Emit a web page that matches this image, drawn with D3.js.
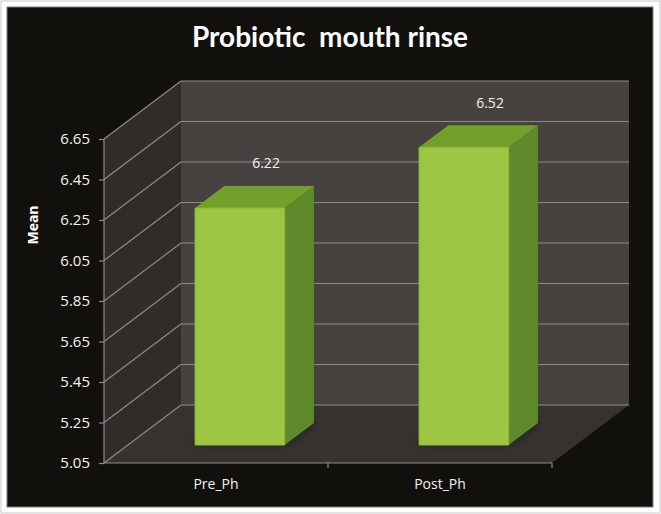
<!DOCTYPE html>
<html>
<head>
<meta charset="utf-8">
<script src="https://cdn.jsdelivr.net/npm/d3@7"></script>
<style>
  html, body { margin: 0; padding: 0; background: #fff; }
  svg { display: block; }
</style>
</head>
<body>
<div id="chart"></div>
<script>
const categories = ["Pre_Ph", "Post_Ph"];
const means = [6.22, 6.52];
const yTicks = [5.05, 5.25, 5.45, 5.65, 5.85, 6.05, 6.25, 6.45, 6.65];

const width = 661, height = 514;
const depthX = 77, depthY = 58;      // back wall offset
const zFront = 0.31, zBack = 0.69;   // bar depth inside the box

const svg = d3.select("#chart")
  .append("svg")
  .attr("width", width)
  .attr("height", height);

// frame
svg.append("rect")
  .attr("x", 0).attr("y", 0)
  .attr("width", width).attr("height", height)
  .attr("fill", "#fff");
svg.append("rect")
  .attr("x", 1).attr("y", 1)
  .attr("width", width - 2).attr("height", height - 2)
  .attr("fill", "none").attr("stroke", "#c8c8c8");
svg.append("rect")
  .attr("x", 7).attr("y", 7)
  .attr("width", 646).attr("height", 500)
  .attr("fill", "#12100d")
  .attr("stroke", "#7a7a7a").attr("stroke-width", 1);

const y = d3.scaleLinear()
  .domain([5.05, 6.65])
  .range([463, 139]);

const x = d3.scaleBand()
  .domain(categories)
  .range([104, 552])
  .paddingInner(0.6)
  .paddingOuter(0.3);

const xAxisScale = d3.scaleBand()
  .domain(categories)
  .range([104, 552]);

// project a front-plane point to depth z (0..1)
const P = (px, py, z) => [px + z * depthX, py - z * depthY];
const poly = pts => "M" + pts.map(p => p.join(",")).join("L") + "Z";

const x0 = xAxisScale.range()[0], x1 = xAxisScale.range()[1];
const yTop = y(6.65), yBot = y(5.05);

// side wall
svg.append("path")
  .attr("d", poly([P(x0, yTop, 0), P(x0, yTop, 1), P(x0, yBot, 1), P(x0, yBot, 0)]))
  .attr("fill", "#2f2c2a");
// back wall
svg.append("path")
  .attr("d", poly([P(x0, yTop, 1), P(x1, yTop, 1), P(x1, yBot, 1), P(x0, yBot, 1)]))
  .attr("fill", "#46423f");
// floor
svg.append("path")
  .attr("d", poly([P(x0, yBot, 0), P(x1, yBot, 0), P(x1, yBot, 1), P(x0, yBot, 1)]))
  .attr("fill", "#353230");

// gridlines: side wall diagonals + back wall lines
const grid = svg.append("g")
  .attr("stroke", "#8d8b88")
  .attr("stroke-width", 1.2)
  .attr("fill", "none");
grid.selectAll(".side")
  .data(yTicks)
  .enter()
  .append("path")
  .attr("d", d => "M" + P(x0, y(d), 0).join(",") + "L" + P(x0, y(d), 1).join(","));
grid.selectAll(".back")
  .data(yTicks)
  .enter()
  .append("path")
  .attr("d", d => "M" + P(x0, y(d), 1).join(",") + "L" + P(x1, y(d), 1).join(","));
// y axis line + front floor edge
grid.append("path")
  .attr("d", `M${x0},${yTop}L${x0},${yBot}L${x1},${yBot}`);

// y axis ticks + labels
const yAxis = d3.axisLeft(y)
  .tickValues(yTicks)
  .tickFormat(d3.format(".2f"))
  .tickSize(5)
  .tickPadding(9);
const gy = svg.append("g")
  .attr("transform", `translate(${x0},0)`)
  .call(yAxis);
gy.select(".domain").remove();
gy.selectAll(".tick line").attr("stroke", "#8d8b88").attr("stroke-width", 1.2);
gy.selectAll(".tick text")
  .attr("fill", "#f2f2f2")
  .style("font-family", "'Open Sans', sans-serif")
  .style("font-size", "15px");

// x axis
const xAxis = d3.axisBottom(xAxisScale)
  .tickSize(0)
  .tickPadding(16);
const gx = svg.append("g")
  .attr("transform", `translate(0,${yBot})`)
  .call(xAxis);
gx.select(".domain").remove();
gx.selectAll(".tick text")
  .attr("fill", "#f2f2f2")
  .style("font-family", "'Open Sans', sans-serif")
  .style("font-size", "14px");
// category boundary ticks
svg.append("g")
  .selectAll("line")
  .data(categories)
  .enter()
  .append("line")
  .attr("x1", d => xAxisScale(d) + xAxisScale.bandwidth())
  .attr("x2", d => xAxisScale(d) + xAxisScale.bandwidth())
  .attr("y1", yBot)
  .attr("y2", yBot + 5)
  .attr("stroke", "#8d8b88")
  .attr("stroke-width", 1.2);

// bar shadows
const defs = svg.append("defs");
defs.append("filter")
  .attr("id", "blur")
  .attr("x", "-50%").attr("y", "-50%").attr("width", "200%").attr("height", "200%")
  .append("feGaussianBlur")
  .attr("stdDeviation", 3);

const bars = svg.append("g")
  .selectAll("g")
  .data(categories.map((c, i) => ({ cat: c, value: means[i] })))
  .enter()
  .append("g");

bars.append("path")
  .attr("d", d => {
    const bx0 = x(d.cat) - 4, bx1 = x(d.cat) + x.bandwidth();
    return poly([P(bx0, yBot, zFront + 0.03), P(bx1, yBot, zFront + 0.03), P(bx1, yBot, zBack), P(bx0, yBot, zBack)]);
  })
  .attr("fill", "#1a1817")
  .attr("opacity", 0.8)
  .attr("filter", "url(#blur)");

// right side face
bars.append("path")
  .attr("d", d => {
    const bx1 = x(d.cat) + x.bandwidth(), t = y(d.value);
    return poly([P(bx1, t, zFront), P(bx1, t, zBack), P(bx1, yBot, zBack), P(bx1, yBot, zFront)]);
  })
  .attr("fill", "#5f8a2c");
// top face
bars.append("path")
  .attr("d", d => {
    const bx0 = x(d.cat), bx1 = x(d.cat) + x.bandwidth(), t = y(d.value);
    return poly([P(bx0, t, zFront), P(bx1, t, zFront), P(bx1, t, zBack), P(bx0, t, zBack)]);
  })
  .attr("fill", "#72a02b");
// front face
bars.append("path")
  .attr("d", d => {
    const bx0 = x(d.cat), bx1 = x(d.cat) + x.bandwidth(), t = y(d.value);
    return poly([P(bx0, t, zFront), P(bx1, t, zFront), P(bx1, yBot, zFront), P(bx0, yBot, zFront)]);
  })
  .attr("fill", "#9dc644")
  .attr("stroke", "#8fbb3a")
  .attr("stroke-width", 1);

// value labels
bars.append("text")
  .attr("x", d => P(xAxisScale(d.cat) + xAxisScale.bandwidth() / 2, y(d.value), 0.65)[0])
  .attr("y", d => P(0, y(d.value), 0.65)[1] - 20)
  .attr("text-anchor", "middle")
  .attr("fill", "#f2f2f2")
  .style("font-family", "'Open Sans', sans-serif")
  .style("font-size", "14px")
  .text(d => d.value.toFixed(2));

// title
svg.append("text")
  .attr("x", 330)
  .attr("y", 47)
  .attr("text-anchor", "middle")
  .attr("fill", "#ffffff")
  .style("font-family", "Lato, sans-serif")
  .style("font-weight", "bold")
  .style("font-size", "28px")
  .style("white-space", "pre")
  .text("Probiotic  mouth rinse");

// y axis title
svg.append("text")
  .attr("transform", "translate(38,225) rotate(-90)")
  .attr("text-anchor", "middle")
  .attr("fill", "#ffffff")
  .style("font-family", "'Open Sans', sans-serif")
  .style("font-weight", "bold")
  .style("font-size", "14px")
  .text("Mean");
</script>
</body>
</html>
